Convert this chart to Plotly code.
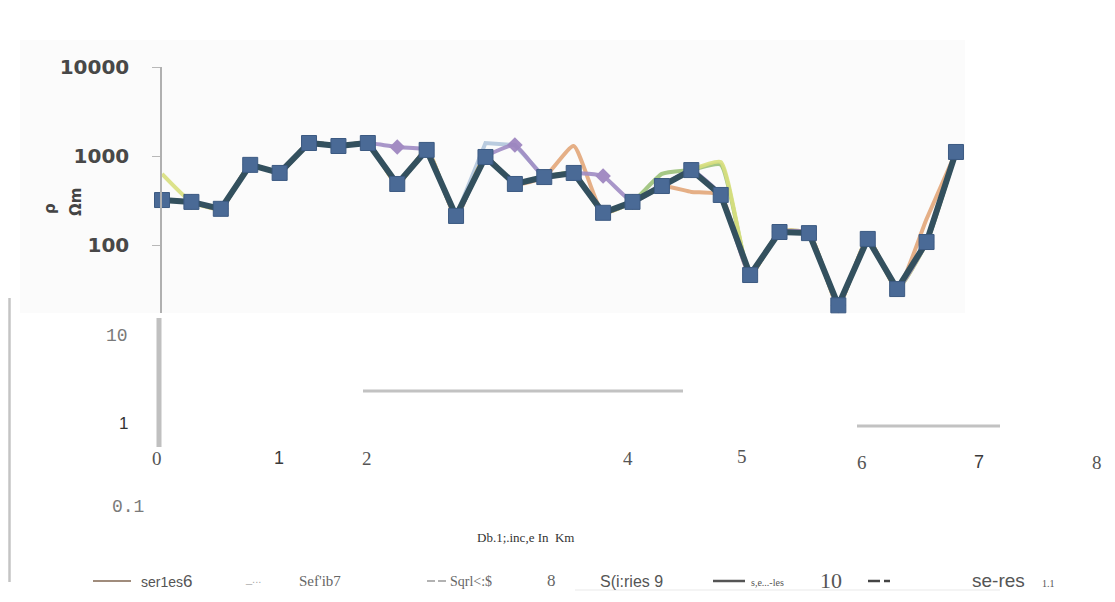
import plotly.graph_objects as go

# ---------------- data ----------------
distance_km = [0.0, 0.25, 0.5, 0.75, 1.0, 1.25, 1.5, 1.75, 2.0, 2.25, 2.5, 2.75, 3.0, 3.25,
               3.5, 3.75, 4.0, 4.25, 4.5, 4.75, 5.0, 5.25, 5.5, 5.75, 6.0, 6.25, 6.5, 6.75]

series11 = [320, 305, 255, 795, 645, 1400, 1295, 1400, 485, 1170, 212, 975, 485, 580,
            645, 230, 305, 460, 695, 365, 46, 140, 136, 21, 117, 32, 108, 1110]
series6 = [320, 305, 255, 795, 645, 1400, 1295, 1400, 485, 1170, 212, 975, 485, 580,
           1295, 230, 305, 460, 395, 365, 46, 140, 136, 21, 117, 32, 196, 1110]
series7 = [320, 305, 255, 795, 645, 1400, 1295, 1400, 1260, 1170, 212, 975, 1330, 580,
           645, 596, 305, 460, 695, 365, 46, 140, 136, 21, 117, 32, 108, 1110]
series8 = [628, 305, 255, 795, 645, 1400, 1295, 1400, 485, 1170, 212, 975, 485, 580,
           645, 230, 305, 460, 695, 857, 46, 140, 136, 21, 117, 32, 108, 1110]
series9 = [320, 305, 255, 795, 645, 1400, 1295, 1400, 485, 1170, 212, 975, 485, 580,
           645, 230, 305, 630, 695, 800, 46, 140, 136, 21, 117, 32, 108, 1110]
series10 = [320, 305, 255, 795, 645, 1400, 1295, 1400, 485, 1170, 212, 1400, 1330, 580,
            645, 230, 305, 460, 695, 365, 46, 140, 136, 21, 117, 32, 108, 1110]

y_ticks = [100, 1000, 10000]
y_tick_labels = ["100", "1000", "10000"]

# ---------------- layout geometry ----------------
# the page body has an 8px margin, so the figure starts at page (8, 8)
W, H = 1107, 594
L, R, T, B = 154, 12, 59, 289
PW, PH = W - L - R, H - T - B


def px(x):  # page x -> paper x
    return (x - 8 - L) / PW


def py(y):  # page y -> paper y
    return (H - B - (y - 8)) / PH


fig = go.Figure()

others = [
    ("Series10", series10, "#b2c6dc", "linear"),
    ("Series9", series9, "#9cc27a", "spline"),
    ("Series8", series8, "#d9e07e", "spline"),
    ("Series6", series6, "#e3a77a", "spline"),
]
for name, vals, col, shp in others:
    fig.add_trace(go.Scatter(
        x=distance_km, y=vals, name=name, mode="lines",
        line=dict(color=col, width=4, shape=shp, smoothing=0.5),
        cliponaxis=False, showlegend=False, opacity=0.9))

fig.add_trace(go.Scatter(
    x=distance_km, y=series7, name="Series7", mode="lines+markers",
    line=dict(color="#a08cc4", width=4, shape="spline", smoothing=0.4),
    marker=dict(symbol="diamond", size=12, color="#9a80bd"),
    cliponaxis=False, showlegend=False, opacity=0.9))

fig.add_trace(go.Scatter(
    x=distance_km, y=series11, name="Series11", mode="lines+markers",
    line=dict(color="#33505e", width=6),
    marker=dict(symbol="square", size=15, color="#4a6a96",
                line=dict(color="#3c5a82", width=1)),
    cliponaxis=False, showlegend=False))

fig.update_xaxes(range=[0, 8], visible=False)
fig.update_yaxes(
    type="log", range=[1.236, 4.0],
    tickvals=y_ticks, ticktext=y_tick_labels,
    showgrid=False, zeroline=False,
    showline=True, linecolor="#b0b0b0", linewidth=1.5,
    ticks="outside", ticklen=8, tickcolor="#b8b8b8", tickwidth=1,
    ticklabelstandoff=19,
    tickfont=dict(family="DejaVu Sans", size=20, color="#484848", weight="bold"),
)

shapes = []
# faint background of the top chart picture
shapes.append(dict(type="rect", xref="paper", yref="paper", layer="below",
                   x0=px(20), x1=px(965), y0=py(40), y1=py(313),
                   fillcolor="#fbfbfb", line=dict(width=0)))


def hline(x0, x1, y, color="#bdbdbd", w=2.5):
    shapes.append(dict(type="line", xref="paper", yref="paper",
                       x0=px(x0), x1=px(x1), y0=py(y), y1=py(y),
                       line=dict(color=color, width=w)))


def vline(x, y0, y1, color="#bdbdbd", w=2.5):
    shapes.append(dict(type="line", xref="paper", yref="paper",
                       x0=px(x), x1=px(x), y0=py(y0), y1=py(y1),
                       line=dict(color=color, width=w)))


vline(9.5, 298, 582, "#c4c4c4", 2.5)
vline(159, 318, 447, "#c0c0c0", 5)
hline(363, 683, 391, "#c2c2c2", 3)
hline(857, 1000, 426, "#c2c2c2", 3)
hline(575, 1000, 590, "#f0f0f0", 1.5)
# legend line samples
hline(93, 131, 581, "#a08c7c", 2)
hline(713, 745, 581, "#555555", 2.5)
hline(868, 880, 581, "#444444", 2.5)
hline(884, 890, 581, "#444444", 2.5)
hline(427, 435, 581, "#999999", 1.5)
hline(438, 446, 581, "#999999", 1.5)
fig.update_layout(shapes=shapes)

SERIF = "Liberation Serif"
SANS = "Liberation Sans"
MONO = "Liberation Mono"

anns = []


def ann(text, x, y, family, size, color, xanchor="center", angle=0):
    anns.append(dict(text=text, x=px(x), y=py(y), xref="paper", yref="paper",
                     showarrow=False, xanchor=xanchor, yanchor="middle",
                     textangle=angle,
                     font=dict(family=family, size=size, color=color)))


# y-axis title of top chart (two rotated columns)
ann("<b>ρ</b>", 50, 209, "DejaVu Sans", 15, "#444444", angle=-90)
ann("<b>Ωm</b>", 76, 202, "DejaVu Sans", 15, "#444444", angle=-90)

# lower (text) y labels
ann("10", 130, 336, MONO, 18, "#7a7a7a", "right")
ann("1", 130, 423, SANS, 17, "#333333", "right")
ann("0.1", 128, 507, MONO, 18, "#7a7a7a")

# lower x labels
x_label_text = ["0", "1", "2", "4", "5", "6", "7", "8"]
x_label_px = [157, 279, 367, 628, 742, 862, 979, 1097]
x_label_py = [458, 458, 458, 458, 456, 462, 462, 462]
x_label_font = [SERIF, SANS, SERIF, SERIF, SERIF, SERIF, SANS, SERIF]
for t, xx, yy, f in zip(x_label_text, x_label_px, x_label_py, x_label_font):
    ann(t, xx, yy, f, 19 if f == SERIF else 18, "#555555" if f == SERIF else "#3a3a3a")

ann("Db.1;.inc,e In  Km", 525, 537, SERIF, 13, "#333333")

# legend-like text row
ann("ser1es<span style='font-size:17px'>6</span>", 139, 581, SANS, 14, "#555555", "left")
ann("_...", 243, 579, SANS, 11, "#aaaaaa", "left")
ann("Sef'ib7", 297, 581, SERIF, 15, "#666666", "left")
ann("Sqrl&lt;:$", 448, 581, SERIF, 14, "#666666", "left")
ann("8", 545, 580, SERIF, 17, "#666666", "left")
ann("S(i:ries 9", 598, 581, SANS, 16, "#555555", "left")
ann("s,e...-les", 749, 582, SERIF, 10, "#555555", "left")
ann("10", 818, 580, SERIF, 22, "#555555", "left")
ann("se-res", 970, 580, SANS, 19, "#555555", "left")
ann("1.1", 1040, 583, SERIF, 10, "#555555", "left")

fig.update_layout(
    annotations=anns,
    width=W, height=H,
    margin=dict(l=L, r=R, t=T, b=B, pad=0),
    paper_bgcolor="white", plot_bgcolor="rgba(0,0,0,0)",
    showlegend=False,
)

fig.write_html("out.html")
